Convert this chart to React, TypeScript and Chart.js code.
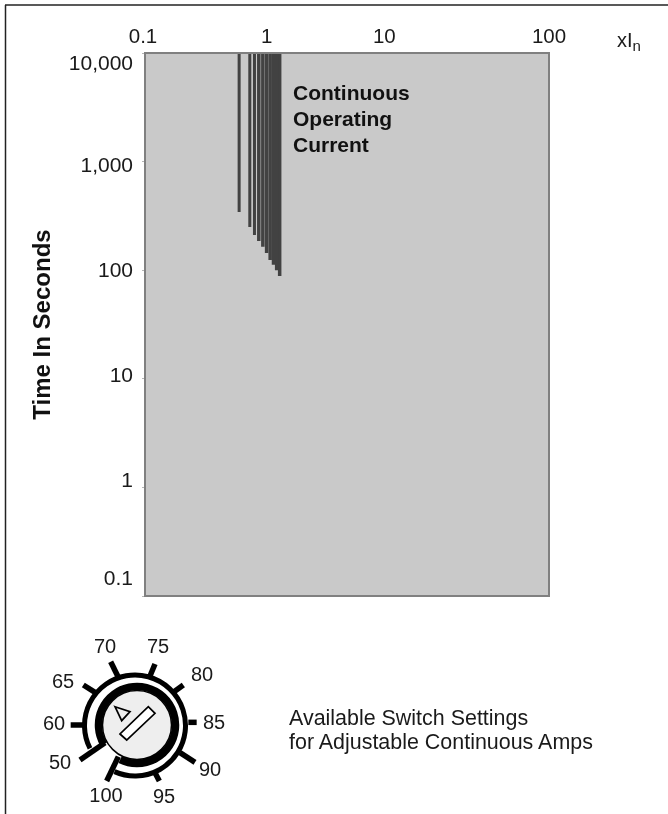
import React, { useEffect, useRef } from "react";
import { Chart, registerables } from "chart.js";

Chart.register(...registerables);

// Dial settings (percent of rated current) and the trip time at the end of each line
const settingLabels = ["50", "60", "65", "70", "75", "80", "85", "90", "95", "100"];
const currentMultiples = [0.5, 0.6, 0.65, 0.7, 0.75, 0.8, 0.85, 0.9, 0.95, 1.0];
const endSeconds = [344, 250, 211, 186, 164, 144, 124, 112, 100, 88.5];
const xTicks = [0.1, 1, 10, 100];
const yTicks = [0.1, 1, 10, 100, 1000, 10000];
const yTickLabels = ["0.1", "1", "10", "100", "1,000", "10,000"];
const topSeconds = 10000;
const annotationLines = ["Continuous", "Operating", "Current"];
const captionLines = ["Available Switch Settings", "for Adjustable Continuous Amps"];

const FONT = '"Liberation Sans", Arial, sans-serif';

// The printed labels sit away from the true tick positions in the reference.
const xLabelNudge = [-2, -13, -30, 0];
const yLabelNudge = [-17, -6, -3, 1, 5, 11];
const lineWidths = [3, 3, 3, 3.5, 3.5, 3.5, 3.5, 3.5, 3.5, 3.5];

const plotFrame = {
  id: "plotFrame",
  beforeDatasetsDraw(chart: any) {
    const { ctx, chartArea: a } = chart;
    ctx.save();
    ctx.fillStyle = "#c9c9c9";
    ctx.fillRect(a.left, a.top, a.right - a.left, a.bottom - a.top);
    ctx.restore();
  },
  afterDatasetsDraw(chart: any) {
    const { ctx, chartArea: a } = chart;
    ctx.save();
    ctx.strokeStyle = "#808080";
    ctx.lineWidth = 2;
    ctx.strokeRect(a.left, a.top, a.right - a.left, a.bottom - a.top);
    ctx.restore();
  },
  afterLayout(chart: any) {
    const area = chart.chartArea;
    chart.scales.x.getLabelItems(area).forEach((it: any, i: number) => {
      it.options.translation[0] += xLabelNudge[i] ?? 0;
    });
    chart.scales.y.getLabelItems(area).forEach((it: any, i: number) => {
      it.options.translation[1] += yLabelNudge[i] ?? 0;
    });
  },
};

// Dial drawing geometry (decoration, not data)
const dialTicks = [
  [212, 375, 250, 375], [250, 255, 290, 280], [332, 185, 355, 232], [465, 192, 450, 228],
  [550, 255, 522, 275], [590, 367, 565, 367], [585, 487, 540, 458], [478, 543, 465, 518],
  [320, 543, 355, 470], [240, 480, 315, 428],
].map(([a, b, c, d]) => [a / 3, 600 + b / 3, c / 3, 600 + d / 3]);
const dialLabelAt: Record<string, [number, number]> = {
  "70": [105, 648], "75": [158, 648], "65": [63, 683], "80": [202, 676], "60": [54, 725],
  "85": [214, 724], "50": [60, 764], "90": [210, 771], "100": [106, 797], "95": [164, 798],
};
const pt = (cx: number, cy: number, r: number, deg: number) => {
  const t = (deg * Math.PI) / 180;
  return `${cx + r * Math.cos(t)} ${cy + r * Math.sin(t)}`;
};

export default function App() {
  const ref = useRef<HTMLCanvasElement>(null);
  useEffect(() => {
    const chart = new Chart(ref.current!, {
      type: "scatter",
      data: {
        datasets: settingLabels.map((label, i) => ({
          label,
          data: [
            { x: currentMultiples[i], y: topSeconds },
            { x: currentMultiples[i], y: endSeconds[i] },
          ],
          showLine: true,
          borderColor: "#424242",
          borderWidth: lineWidths[i],
          pointRadius: 0,
          borderCapStyle: "butt" as const,
        })),
      },
      options: {
        animation: false,
        responsive: false,
        devicePixelRatio: 1,
        layout: { padding: { left: 0, top: 0, right: 119, bottom: 218 } },
        plugins: { legend: { display: false }, tooltip: { enabled: false } },
        scales: {
          x: {
            type: "logarithmic",
            position: "top",
            min: 0.1,
            max: 100,
            afterBuildTicks: (s: any) => {
              s.ticks = xTicks.map((value) => ({ value }));
            },
            afterFit: (s: any) => {
              s.height = 53;
            },
            grid: { drawOnChartArea: false, color: "rgba(0,0,0,0)", tickLength: 3 },
            border: { display: false },
            ticks: {
              autoSkip: false,
              maxRotation: 0,
              padding: 0,
              color: "#1a1a1a",
              font: { family: FONT, size: 20.5 },
              callback: (v: any) => String(v),
            },
          },
          y: {
            type: "logarithmic",
            min: 0.1,
            max: topSeconds,
            afterBuildTicks: (s: any) => {
              s.ticks = yTicks.map((value) => ({ value }));
            },
            afterFit: (s: any) => {
              s.width = 145;
            },
            grid: { drawOnChartArea: false, color: "#b5b5b5", tickLength: 3 },
            border: { display: false },
            title: {
              display: true,
              text: "Time In Seconds",
              color: "#111",
              font: { family: FONT, size: 24, weight: "bold" },
              padding: { top: 29, bottom: 0 },
            },
            ticks: {
              autoSkip: false,
              padding: 9,
              color: "#1a1a1a",
              font: { family: FONT, size: 21 },
              callback: (v: any) => yTickLabels[yTicks.indexOf(Number(v))] ?? "",
            },
          },
        },
      },
      plugins: [plotFrame],
    } as any);
    return () => chart.destroy();
  }, []);

  const outer = { x: 135, y: 725.5 };
  const inner = { x: 137, y: 725 };
  return (
    <div style={{ position: "absolute", left: 0, top: 0, width: 668, height: 814, overflow: "hidden", background: "#fff" }}>
      <canvas ref={ref} width={668} height={814} style={{ position: "absolute", left: 0, top: 0, width: 668, height: 814 }} />
      <svg width={668} height={814} style={{ position: "absolute", left: 0, top: 0 }} fontFamily={FONT}>
        <line x1={5} y1={5} x2={668} y2={5} stroke="#222" strokeWidth={1.5} />
        <line x1={5.5} y1={5} x2={5.5} y2={814} stroke="#222" strokeWidth={1.5} />

        <text x={617} y={47} fontSize={20} fill="#1a1a1a">
          xI<tspan fontSize={15} dy={4}>n</tspan>
        </text>

        {annotationLines.map((t, i) => (
          <text key={t} x={293} y={100 + i * 26} fontSize={21} fontWeight="bold" fill="#111">{t}</text>
        ))}
        {captionLines.map((t, i) => (
          <text key={t} x={289} y={725 + i * 24} fontSize={21.45} fill="#1a1a1a">{t}</text>
        ))}

        {dialTicks.map(([a, b, d, e], i) => (
          <line key={i} x1={a} y1={b} x2={d} y2={e} stroke="#000" strokeWidth={5.5} />
        ))}
        <path d={`M ${pt(outer.x, outer.y, 50.5, 153)} A 50.5 50.5 0 1 1 ${pt(outer.x, outer.y, 50.5, 114)}`} fill="none" stroke="#000" strokeWidth={5} />
        <circle cx={inner.x} cy={inner.y} r={34.5} fill="#eeeeee" stroke="#000" strokeWidth={1.5} />
        <path d={`M ${pt(inner.x, inner.y, 38.5, 150)} A 38.5 38.5 0 1 1 ${pt(inner.x, inner.y, 38.5, 116)}`} fill="none" stroke="#000" strokeWidth={7.5} />
        <polygon points="120,734 126.7,740 155,713.3 148.3,706.7" fill="#fff" stroke="#000" strokeWidth={1.7} />
        <polygon points="115,706.7 130,711.7 121.7,720.7" fill="#eee" stroke="#000" strokeWidth={1.7} />
        {settingLabels.map((t) => (
          <text key={t} x={dialLabelAt[t][0]} y={dialLabelAt[t][1]} fontSize={20} textAnchor="middle" dominantBaseline="middle" fill="#1a1a1a">{t}</text>
        ))}
      </svg>
    </div>
  );
}
